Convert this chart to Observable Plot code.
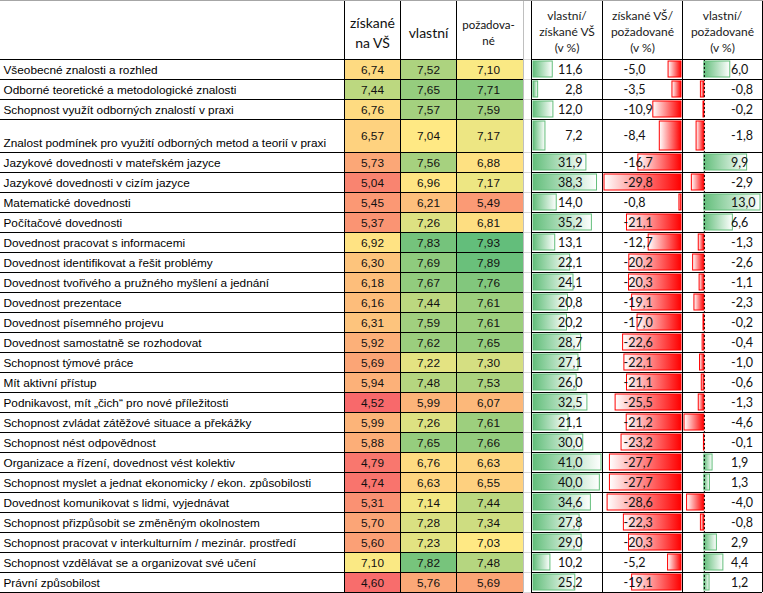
<!DOCTYPE html>
<html><head><meta charset="utf-8">
<script src="https://cdn.jsdelivr.net/npm/d3@7"></script>
<script src="https://cdn.jsdelivr.net/npm/@observablehq/plot@0.6"></script>
<style>
html,body{margin:0;padding:0;background:#fff;}
#chart{position:relative;width:763px;height:593px;overflow:hidden;background:#fff;}
#chart svg{position:absolute;left:0;top:0;}
</style></head><body><div id="chart"></div>
<script>
// ---------------- data ----------------
const skills = [
  "Všeobecné znalosti a rozhled",
  "Odborné teoretické a metodologické znalosti",
  "Schopnost využít odborných znalostí v praxi",
  "Znalost podmínek pro využití odborných metod a teorií v praxi",
  "Jazykové dovednosti v mateřském jazyce",
  "Jazykové dovednosti v cizím jazyce",
  "Matematické dovednosti",
  "Počítačové dovednosti",
  "Dovednost pracovat s informacemi",
  "Dovednost identifikovat a řešit problémy",
  "Dovednost tvořivého a pružného myšlení a jednání",
  "Dovednost prezentace",
  "Dovednost písemného projevu",
  "Dovednost samostatně se rozhodovat",
  "Schopnost týmové práce",
  "Mít aktivní přístup",
  "Podnikavost, mít „čich“ pro nové příležitosti",
  "Schopnost zvládat zátěžové situace a překážky",
  "Schopnost nést odpovědnost",
  "Organizace a řízení, dovednost vést kolektiv",
  "Schopnost myslet a jednat ekonomicky / ekon. způsobilosti",
  "Dovednost komunikovat s lidmi, vyjednávat",
  "Schopnost přizpůsobit se změněným okolnostem",
  "Schopnost pracovat v interkulturním / mezinár. prostředí",
  "Schopnost vzdělávat se a organizovat své učení",
  "Právní způsobilost"
];
const ziskaneVS = [6.74, 7.44, 6.76, 6.57, 5.73, 5.04, 5.45, 5.37, 6.92, 6.30, 6.18, 6.16, 6.31, 5.92, 5.69, 5.94, 4.52, 5.99, 5.88, 4.79, 4.74, 5.31, 5.70, 5.60, 7.10, 4.60];
const vlastni = [7.52, 7.65, 7.57, 7.04, 7.56, 6.96, 6.21, 7.26, 7.83, 7.69, 7.67, 7.44, 7.59, 7.62, 7.22, 7.48, 5.99, 7.26, 7.65, 6.76, 6.63, 7.14, 7.28, 7.23, 7.82, 5.76];
const pozadovane = [7.10, 7.71, 7.59, 7.17, 6.88, 7.17, 5.49, 6.81, 7.93, 7.89, 7.76, 7.61, 7.61, 7.65, 7.30, 7.53, 6.07, 7.61, 7.66, 6.63, 6.55, 7.44, 7.34, 7.03, 7.48, 5.69];
const vlastniZiskane = [11.6, 2.8, 12.0, 7.2, 31.9, 38.3, 14.0, 35.2, 13.1, 22.1, 24.1, 20.8, 20.2, 28.7, 27.1, 26.0, 32.5, 21.1, 30.0, 41.0, 40.0, 34.6, 27.8, 29.0, 10.2, 25.2];
const ziskanePozadovane = [-5.0, -3.5, -10.9, -8.4, -16.7, -29.8, -0.8, -21.1, -12.7, -20.2, -20.3, -19.1, -17.0, -22.6, -22.1, -21.1, -25.5, -21.2, -23.2, -27.7, -27.7, -28.6, -22.3, -20.3, -5.2, -19.1];
const vlastniPozadovane = [6.0, -0.8, -0.2, -1.8, 9.9, -2.9, 13.0, 6.6, -1.3, -2.6, -1.1, -2.3, -0.2, -0.4, -1.0, -0.6, -1.3, -4.6, -0.1, 1.9, 1.3, -4.0, -0.8, 2.9, 4.4, 1.2];
const heatHeaders = ["získané\nna VŠ", "vlastní", "požadova-\nné"];
const barHeaders = ["vlastní/\nzískané VŠ\n(v %)", "získané VŠ/\npožadované\n(v %)", "vlastní/\npožadované\n(v %)"];

// ---------------- layout ----------------
const W = 763, H = 593;
const headerH = 59;
const rowH = skills.map((_, i) => i === 3 ? 33 : 20);
const tops = []; let acc = headerH; rowH.forEach(h => { tops.push(acc); acc += h; });
const bottomY = acc;
const heatEdges = [344, 400, 456, 523];
const heatCenters = [372, 428, 488];
const barEdges = [531, 602, 682, 762];
const barCenters = [566.5, 642, 722];
const boundaries = [headerH, ...tops.map((t, i) => t + rowH[i])];

const loc = d3.formatLocale({decimal: ",", thousands: " ", grouping: [3], currency: ["", ""], minus: "-"});
const fmt2 = loc.format(".2f"), fmt1 = loc.format(".1f");

const rows = skills.map((s, i) => ({
  skill: s, top: tops[i], bottom: tops[i] + rowH[i],
  vals: [ziskaneVS[i], vlastni[i], pozadovane[i]],
  a: vlastniZiskane[i], b: ziskanePozadovane[i], c: vlastniPozadovane[i]
}));
const heatCells = rows.flatMap(r => r.vals.map((v, j) => ({top: r.top, bottom: r.bottom, col: j, v})));
const allHeat = heatCells.map(d => d.v);

const px = {type: "linear", domain: [0, W], range: [0, W], axis: null};
const py = {type: "linear", domain: [0, H], range: [0, H], axis: null};
const ARIAL = "Arial, 'Liberation Sans', sans-serif";
const CAL = "Lato, Carlito, Calibri, sans-serif";

// ---------------- base table ----------------
const base = Plot.plot({
  width: W, height: H, margin: 0,
  x: px, y: py,
  color: {type: "linear", domain: [d3.min(allHeat), d3.median(allHeat), d3.max(allHeat)],
          range: ["#F8696B", "#FFEB84", "#63BE7B"], interpolate: "rgb"},
  style: {background: "white"},
  marks: [
    Plot.rect(heatCells, {x1: d => heatEdges[d.col], x2: d => heatEdges[d.col + 1], y1: "top", y2: "bottom", fill: "v"}),
    Plot.ruleY(boundaries, {x1: 523, x2: 531, stroke: "#D9D9D9"}),
    Plot.ruleX([523], {y1: 0, y2: bottomY, stroke: "#BFBFBF"}),
    Plot.ruleY([0], {x1: 0, x2: W, stroke: "#A6A6A6"}),
    Plot.ruleY(boundaries, {x1: 0, x2: 523, stroke: "black"}),
    Plot.ruleY(boundaries, {x1: 531, x2: 762, stroke: "black"}),
    Plot.ruleX(heatEdges.slice(0, 3), {y1: 1, y2: bottomY, stroke: "black"}),
    Plot.ruleX(barEdges, {y1: 1, y2: bottomY, stroke: "black"}),
    Plot.text(rows, {x: 3, y: d => d.bottom - 9, text: "skill", textAnchor: "start", lineAnchor: "middle",
      fontFamily: ARIAL, fontSize: 11.8, fill: "#000"}),
    Plot.text(heatCells, {x: d => heatCenters[d.col], y: d => (d.top + d.bottom) / 2 + 0.5, text: d => fmt2(d.v),
      textAnchor: "middle", lineAnchor: "middle", fontFamily: ARIAL, fontSize: 11.8, fill: "#111"}),
    Plot.text([heatHeaders[0], heatHeaders[1]], {x: (d, i) => heatCenters[i], y: 31.5, text: d => d,
      lineAnchor: "middle", lineHeight: 20 / 14, fontFamily: CAL, fontSize: 14, fill: "#111"}),
    Plot.text([heatHeaders[2]], {x: heatCenters[2], y: 31, text: d => d,
      lineAnchor: "middle", lineHeight: 16 / 11.5, fontFamily: CAL, fontSize: 11.5, fill: "#111"}),
    Plot.text(barHeaders, {x: (d, i) => barCenters[i], y: 30.7, text: d => d,
      lineAnchor: "middle", lineHeight: 16 / 12, fontFamily: CAL, fontSize: 12, fill: "#1a1a1a"})
  ]
});
d3.select(base).insert("defs", ":first-child").html(`
  <linearGradient id="gGreen" x1="0" x2="1" y1="0" y2="0">
    <stop offset="0" stop-color="#63BE7B"/><stop offset="1" stop-color="#FFFFFF"/>
  </linearGradient>
  <linearGradient id="gRed" x1="0" x2="1" y1="0" y2="0">
    <stop offset="0" stop-color="#FFFFFF"/><stop offset="1" stop-color="#FF0000"/>
  </linearGradient>`);

// ---------------- data bars ----------------
const barY1 = d => d.top + 2, barY2 = d => d.bottom - 2;
const overlay = (xScale, marks) => Plot.plot({
  width: W, height: H, margin: 0, x: {...xScale, axis: null}, y: py,
  style: {background: "transparent"}, marks
});
const barsA = overlay({type: "linear", domain: [0, d3.max(vlastniZiskane)], range: [533, 601]}, [
  Plot.rect(rows, {x1: 0, x2: "a", y1: barY1, y2: barY2, fill: "url(#gGreen)", stroke: "#63BE7B"})
]);
const barsB = overlay({type: "linear", domain: [d3.min(ziskanePozadovane), 0], range: [604, 681]}, [
  Plot.rect(rows, {x1: "b", x2: 0, y1: barY1, y2: barY2, fill: "url(#gRed)", stroke: "#FF0000"})
]);
const barsC = overlay({type: "linear", domain: [d3.min(vlastniPozadovane), d3.max(vlastniPozadovane)], range: [684, 760]}, [
  Plot.rect(rows.filter(d => d.c >= 0), {x1: 0, x2: "c", y1: barY1, y2: barY2, fill: "url(#gGreen)", stroke: "#63BE7B"}),
  Plot.rect(rows.filter(d => d.c < 0), {x1: "c", x2: 0, y1: barY1, y2: barY2, fill: "url(#gRed)", stroke: "#FF0000"}),
  Plot.ruleX([0], {y1: headerH, y2: bottomY, stroke: "black", strokeDasharray: "2,2"})
]);

// ---------------- bar value labels ----------------
const labels = Plot.plot({
  width: W, height: H, margin: 0, x: px, y: py, style: {background: "transparent"},
  marks: [
    Plot.text(rows, {x: 582, y: d => (d.top + d.bottom) / 2, text: d => fmt1(d.a), textAnchor: "end",
      lineAnchor: "middle", fontFamily: CAL, fontSize: 12.5, fill: "#111"}),
    Plot.text(rows, {x: 623, y: d => (d.top + d.bottom) / 2, text: d => fmt1(d.b), textAnchor: "start",
      lineAnchor: "middle", fontFamily: CAL, fontSize: 12.5, fill: "#111"}),
    Plot.text(rows, {x: 730.5, y: d => (d.top + d.bottom) / 2, text: d => fmt1(d.c), textAnchor: "start",
      lineAnchor: "middle", fontFamily: CAL, fontSize: 12.5, fill: "#111"})
  ]
});

const chart = document.getElementById("chart");
[base, barsA, barsB, barsC, labels].forEach(s => chart.appendChild(s));
</script></body></html>
